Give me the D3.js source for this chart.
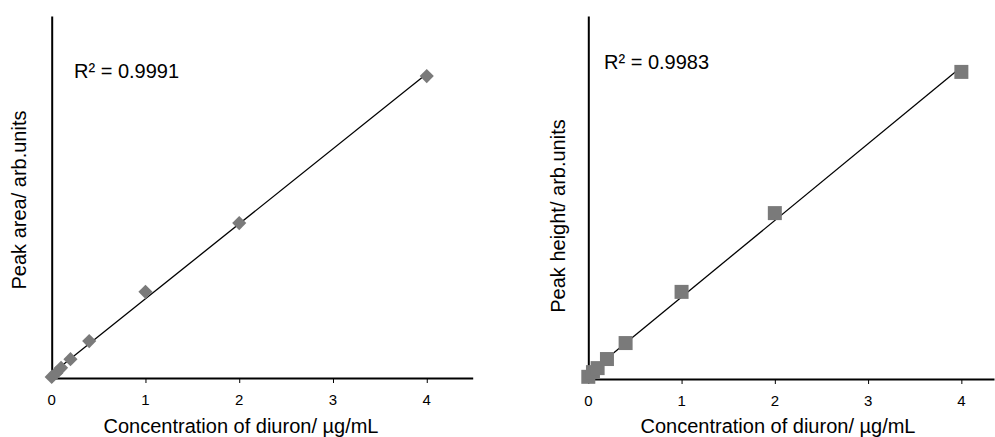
<!DOCTYPE html>
<html>
<head>
<meta charset="utf-8">
<script src="https://cdn.jsdelivr.net/npm/d3@7"></script>
<style>
  body { margin: 0; background: #fff; }
  text { font-family: "Liberation Sans", Arial, sans-serif; fill: #000; }
</style>
</head>
<body>
<script>
// calibration data (y in arbitrary units)
const concentrations = [0, 0.05, 0.1, 0.2, 0.4, 1, 2, 4];
const peakArea = [0.3, 1.4, 2.8, 5.2, 10.2, 23.8, 42.8, 83.4];
const peakHeight = [0.6, 1.9, 3.0, 5.5, 9.9, 24.0, 45.7, 84.6];
const xTicks = [0, 1, 2, 3, 4];
const r2Labels = ["R\u00b2 = 0.9991", "R\u00b2 = 0.9983"];
const yTitles = ["Peak area/ arb.units", "Peak height/ arb.units"];
const xTitle = "Concentration of diuron/ \u00b5g/mL";

const W = 995, H = 437;

const panels = [
  { ys: peakArea, x0: 51.7, x1: 472.7, xMax: 4.49, y0: 378, y1: 16, marker: "diamond",
    r2: r2Labels[0], r2x: 74, r2y: 78, yTitle: yTitles[0], ytx: 19, yty: 200, xtx: 241 },
  { ys: peakHeight, x0: 588.3, x1: 994, xMax: 4.35, y0: 379, y1: 16, marker: "square",
    r2: r2Labels[1], r2x: 604, r2y: 69, yTitle: yTitles[1], ytx: 558, yty: 216, xtx: 778 }
];

const svg = d3.select("body").append("svg")
    .attr("width", W)
    .attr("height", H);

function fit(xs, ys) {
  const mx = d3.mean(xs), my = d3.mean(ys);
  let sxy = 0, sxx = 0;
  xs.forEach((x, i) => { sxy += (x - mx) * (ys[i] - my); sxx += (x - mx) * (x - mx); });
  const b = sxy / sxx;
  return { a: my - b * mx, b: b };
}

panels.forEach(p => {
  const x = d3.scaleLinear().domain([0, p.xMax]).range([p.x0, p.x1]);
  const y = d3.scaleLinear().domain([0, 100]).range([p.y0, p.y1]);
  const g = svg.append("g");

  // x axis: line + small ticks, labels drawn as separate text
  const xa = g.append("g")
      .attr("transform", `translate(0,${p.y0})`)
      .call(d3.axisBottom(x).tickValues(xTicks).tickSize(5).tickSizeOuter(0).tickFormat(""));
  xa.select(".domain").attr("stroke", "#000").attr("stroke-width", 2);
  xa.selectAll(".tick line").attr("stroke", "#000").attr("stroke-width", 1);

  g.selectAll("text.xl")
    .data(xTicks)
    .join("text")
      .attr("class", "xl")
      .attr("x", d => x(d))
      .attr("y", p.y0 + 27)
      .attr("text-anchor", "middle")
      .style("font-size", "15px")
      .text(d => d);

  // y axis (no ticks)
  const ya = g.append("g")
      .attr("transform", `translate(${p.x0},0)`)
      .call(d3.axisLeft(y).tickValues([]).tickSizeOuter(0));
  ya.select(".domain").attr("stroke", "#000").attr("stroke-width", 2);

  // trend line
  const f = fit(concentrations, p.ys);
  g.append("line")
      .attr("x1", x(0)).attr("y1", y(f.a))
      .attr("x2", x(4)).attr("y2", y(f.a + f.b * 4))
      .attr("stroke", "#000")
      .attr("stroke-width", 1.3);

  // markers
  const sym = d3.symbol().type(d3.symbolSquare).size(p.marker === "diamond" ? 100 : 196);
  g.selectAll("path.pt")
    .data(concentrations.map((c, i) => [c, p.ys[i]]))
    .join("path")
      .attr("class", "pt")
      .attr("d", sym)
      .attr("fill", "#7a7a7a")
      .attr("transform", d => `translate(${x(d[0])},${y(d[1])})` + (p.marker === "diamond" ? " rotate(45)" : ""));

  // texts
  g.append("text")
      .attr("x", p.r2x).attr("y", p.r2y)
      .style("font-size", "20px")
      .text(p.r2);

  g.append("text")
      .attr("transform", `translate(${p.ytx},${p.yty}) rotate(-90)`)
      .attr("text-anchor", "middle")
      .attr("dominant-baseline", "central")
      .style("font-size", "20px")
      .text(p.yTitle);

  g.append("text")
      .attr("x", p.xtx).attr("y", 433)
      .attr("text-anchor", "middle")
      .style("font-size", "20px")
      .text(xTitle);
});
</script>
</body>
</html>
